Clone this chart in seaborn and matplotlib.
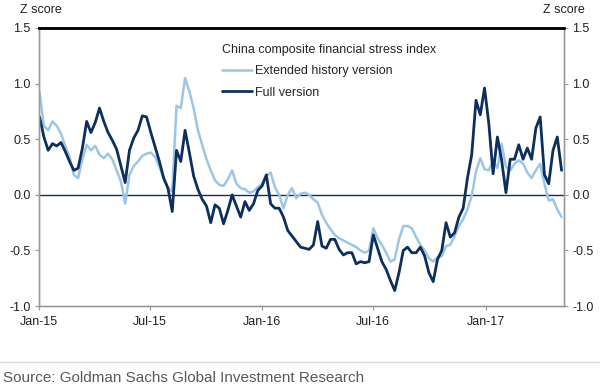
import pandas as pd
import matplotlib.pyplot as plt
import matplotlib.dates as mdates
from matplotlib.lines import Line2D
import seaborn as sns

# ------------------------------------------------------------
# Data: weekly readings of the China composite financial stress
# index (z score)
# ------------------------------------------------------------
dates = pd.date_range('2015-01-02', periods=123, freq='7D')

extended_history = [
    0.92, 0.62, 0.58, 0.66, 0.62, 0.55, 0.44, 0.34, 0.18, 0.15,
    0.32, 0.45, 0.40, 0.44, 0.36, 0.33, 0.37, 0.32, 0.22, 0.12,
    -0.08, 0.18, 0.26, 0.30, 0.35, 0.37, 0.38, 0.34, 0.25, 0.15,
    0.06, 0.03, 0.80, 0.78, 1.05, 0.93, 0.78, 0.58, 0.45, 0.32,
    0.22, 0.13, 0.09, 0.08, 0.14, 0.22, 0.10, 0.06, 0.05, 0.02,
    0.03, 0.07, 0.10, 0.17, 0.20, 0.07, 0.00, -0.12, 0.00, 0.06,
    -0.03, 0.01, 0.02, 0.00, -0.04, -0.07, -0.18, -0.25, -0.31, -0.36,
    -0.39, -0.41, -0.43, -0.45, -0.47, -0.50, -0.52, -0.50, -0.30, -0.39,
    -0.45, -0.52, -0.60, -0.58, -0.40, -0.28, -0.28, -0.30, -0.38, -0.45,
    -0.50, -0.57, -0.60, -0.56, -0.55, -0.46, -0.45, -0.37, -0.28, -0.22,
    -0.13, -0.01, 0.21, 0.33, 0.23, 0.22, 0.31, 0.24, 0.46, 0.25,
    0.22, 0.28, 0.31, 0.28, 0.20, 0.15, 0.22, 0.28, 0.10, -0.05,
    -0.04, -0.13, -0.20,
]

full_version = [
    0.70, 0.52, 0.40, 0.46, 0.44, 0.47, 0.39, 0.30, 0.22, 0.24,
    0.42, 0.66, 0.56, 0.65, 0.78, 0.66, 0.56, 0.49, 0.41, 0.26,
    0.11, 0.40, 0.51, 0.58, 0.71, 0.70, 0.56, 0.43, 0.30, 0.15,
    0.06, -0.15, 0.40, 0.30, 0.58, 0.38, 0.17, 0.05, -0.04, -0.10,
    -0.25, -0.09, -0.12, -0.26, -0.14, 0.00, -0.10, -0.20, -0.06, -0.14,
    -0.08, 0.04, 0.08, 0.18, -0.08, -0.12, -0.12, -0.20, -0.32, -0.37,
    -0.42, -0.47, -0.48, -0.49, -0.45, -0.24, -0.46, -0.48, -0.40, -0.40,
    -0.49, -0.54, -0.52, -0.52, -0.62, -0.60, -0.61, -0.60, -0.36, -0.48,
    -0.60, -0.67, -0.77, -0.86, -0.70, -0.50, -0.47, -0.52, -0.52, -0.47,
    -0.55, -0.70, -0.78, -0.58, -0.50, -0.25, -0.38, -0.34, -0.20, -0.12,
    0.15, 0.36, 0.85, 0.72, 0.96, 0.64, 0.19, 0.52, 0.31, 0.02,
    0.32, 0.32, 0.45, 0.32, 0.42, 0.32, 0.60, 0.70, 0.18, 0.10,
    0.40, 0.52, 0.22,
]

y_ticks = [-1.0, -0.5, 0.0, 0.5, 1.0, 1.5]
x_ticks = ['2015-01-01', '2015-07-01', '2016-01-01', '2016-07-01', '2017-01-01']

light_blue = '#9cc6e8'
navy = '#0c2f5e'
grey = '#9a9a9a'

# ------------------------------------------------------------
# Plot
# ------------------------------------------------------------
sns.set_style('white')
plt.rcParams['font.family'] = ['Liberation Sans', 'DejaVu Sans']

fig = plt.figure(figsize=(6, 3.88), dpi=100)
ax = fig.add_axes([0.065, 0.211, 0.875, 0.717])

sns.lineplot(x=dates, y=extended_history, color=light_blue, linewidth=1.8,
             label='Extended history version', ax=ax)
sns.lineplot(x=dates, y=full_version, color=navy, linewidth=2.0,
             label='Full version', ax=ax)
ax.axhline(0, color=navy, linewidth=1.0, zorder=1)

ax.set_xlim(pd.Timestamp('2015-01-01'), pd.Timestamp('2017-05-09'))
ax.set_ylim(-1.0, 1.5)
ax.set_xticks(pd.to_datetime(x_ticks))
ax.xaxis.set_major_formatter(mdates.DateFormatter('%b-%y'))
ax.set_yticks(y_ticks)
ax.set_yticklabels([f'{v:.1f}' for v in y_ticks])
ax.set_xlabel('')
ax.set_ylabel('')

# twin axis on the right with the same scale
ax2 = ax.twinx()
ax2.set_ylim(-1.0, 1.5)
ax2.set_yticks(y_ticks)
ax2.set_yticklabels([f'{v:.1f}' for v in y_ticks])

for a in (ax, ax2):
    for side in ('left', 'right', 'bottom'):
        a.spines[side].set_color(grey)
        a.spines[side].set_linewidth(1.0)
    a.spines['top'].set_color('black')
    a.spines['top'].set_linewidth(1.8)
    a.tick_params(direction='out', length=3, width=0.8, color=grey,
                  labelsize=9, labelcolor='#222222')
ax.tick_params(axis='y', left=True, right=False, pad=3)
ax.tick_params(axis='x', bottom=True, pad=4)
ax2.tick_params(axis='y', right=True, left=False, pad=3)

# legend with title, no frame
ax.legend(title='China composite financial stress index', frameon=False,
          loc='upper left', bbox_to_anchor=(0.362, 1 - 39 / 388),
          bbox_transform=fig.transFigure, alignment='left',
          fontsize=9, title_fontsize=9, handlelength=2.4,
          handletextpad=0.2, labelspacing=0.75, borderaxespad=0)

fig.text(0.033, 0.975, 'Z score', fontsize=9, color='#222222', va='center')
fig.text(0.905, 0.975, 'Z score', fontsize=9, color='#222222', va='center')

# source footer with thin separator
fig.add_artist(Line2D([0, 1], [1 - 362 / 388] * 2, color='#d8d8d8',
                      linewidth=1.0, transform=fig.transFigure))
fig.text(0.005, 1 - 378 / 388, 'Source: Goldman Sachs Global Investment Research',
         fontsize=11, color='#5a5a5a', va='center')

plt.savefig('out.png', dpi=100)
